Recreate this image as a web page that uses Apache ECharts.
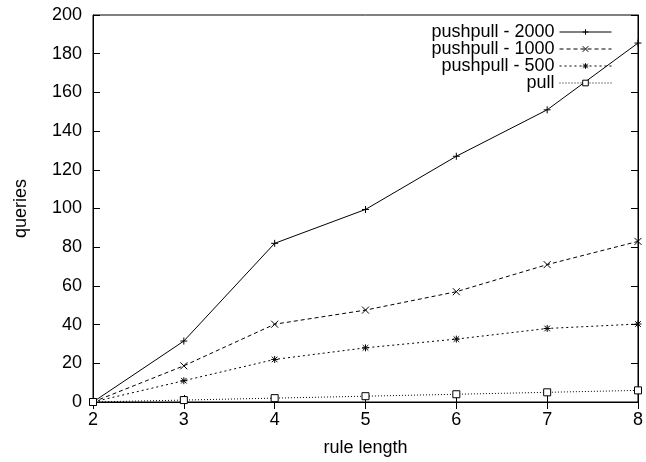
<!DOCTYPE html>
<html>
<head>
<meta charset="utf-8">
<script src="https://cdn.jsdelivr.net/npm/echarts@6/dist/echarts.min.js"></script>
<style>
  html, body { margin: 0; padding: 0; background: #fff; }
  #chart { width: 646px; height: 462px; }
</style>
</head>
<body>
<div id="chart"></div>
<script>
// rule length on x
var ruleLength = [2, 3, 4, 5, 6, 7, 8];
var pushpull2000 = [0, 31.5, 82, 99.5, 127, 151, 185.5];
var pushpull1000 = [0, 18.7, 40.2, 47.5, 57, 71, 83];
var pushpull500 = [0, 11, 22, 28, 32.5, 38, 40.3];
var pull = [0, 1, 2, 3, 4, 5, 6];

var seriesNames = ["pushpull - 2000", "pushpull - 1000", "pushpull - 500", "pull"];
var seriesValues = [pushpull2000, pushpull1000, pushpull500, pull];

var symPlus = "path://M0,5L10,5M5,0L5,10";
var symCross = "path://M0,0L10,10M10,0L0,10";
var symStar = "path://M0,5L10,5M5,0L5,10M1,1L9,9M9,1L1,9";
var symBox = "rect";
var symbols = [symPlus, symCross, symStar, symBox];
var dashes = ["solid", [4, 3], [2, 3], [1, 2]];

var font = "Liberation Sans, Arial, sans-serif";
var fs = 18;

function pairs(vals) {
    return ruleLength.map(function (x, i) { return [x, vals[i]]; });
}

var series = seriesNames.map(function (name, i) {
    var open = symbols[i] === symBox;
    return {
        name: name,
        type: "line",
        xAxisIndex: 0,
        yAxisIndex: 0,
        data: pairs(seriesValues[i]),
        symbol: symbols[i],
        symbolSize: 7,
        showAllSymbol: true,
        animation: false,
        lineStyle: { color: "#000", width: 1, type: dashes[i] },
        itemStyle: {
            color: open ? "#fff" : "#000",
            borderColor: "#000",
            borderWidth: 1
        }
    };
});

var chart = echarts.init(document.getElementById("chart"));
chart.setOption({
    backgroundColor: "#fff",
    animation: false,
    textStyle: { fontFamily: font, color: "#000" },
    grid: {
        left: 93, right: 7, top: 15, bottom: 59,
        show: true, borderColor: "#000", borderWidth: 1,
        backgroundColor: "transparent"
    },
    legend: {
        orient: "vertical",
        right: 29,
        top: 18,
        align: "right",
        itemWidth: 52,
        itemHeight: 7,
        itemGap: -1,
        lineStyle: { width: 1 },
        itemStyle: { borderWidth: 1 },
        textStyle: { fontFamily: font, fontSize: fs, color: "#000", padding: [0, 0, 0, 0] },
        data: seriesNames
    },
    xAxis: [{
        type: "value",
        min: 2, max: 8, interval: 1,
        name: "rule length",
        nameLocation: "middle",
        nameGap: 37,
        nameTextStyle: { fontFamily: font, fontSize: fs, color: "#000" },
        axisLine: { show: true, lineStyle: { color: "#000", width: 1 } },
        axisTick: { show: true, inside: true, length: 7, lineStyle: { color: "#000" } },
        axisLabel: { fontFamily: font, fontSize: fs, color: "#000", margin: 9 },
        splitLine: { show: false }
    }, {
        type: "value",
        position: "top",
        min: 2, max: 8, interval: 1,
        axisLine: { show: true, lineStyle: { color: "#000", width: 1 } },
        axisTick: { show: true, inside: true, length: 7, lineStyle: { color: "#000" } },
        axisLabel: { show: false },
        splitLine: { show: false }
    }],
    yAxis: [{
        type: "value",
        min: 0, max: 200, interval: 20,
        name: "queries",
        nameLocation: "middle",
        nameGap: 63,
        nameTextStyle: { fontFamily: font, fontSize: fs, color: "#000" },
        axisLine: { show: true, lineStyle: { color: "#000", width: 1 } },
        axisTick: { show: true, inside: true, length: 7, lineStyle: { color: "#000" } },
        axisLabel: { fontFamily: font, fontSize: fs, color: "#000", margin: 11 },
        splitLine: { show: false }
    }, {
        type: "value",
        position: "right",
        min: 0, max: 200, interval: 20,
        axisLine: { show: true, lineStyle: { color: "#000", width: 1 } },
        axisTick: { show: true, inside: true, length: 7, lineStyle: { color: "#000" } },
        axisLabel: { show: false },
        splitLine: { show: false }
    }],
    series: series
});
</script>
</body>
</html>
